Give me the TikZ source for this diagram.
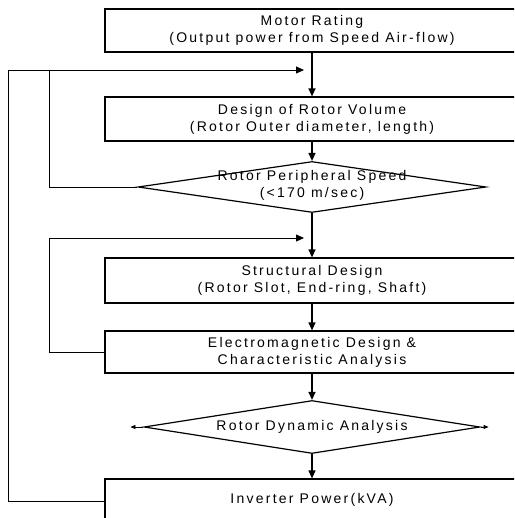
\documentclass[tikz,border=0pt]{standalone}
\usepackage{fontspec}
\setmainfont{Liberation Sans}[LetterSpace=16]
\usepackage{xcolor}
\definecolor{chart-ink}{HTML}{000000}
\usetikzlibrary{shapes.geometric,arrows.meta}

\tikzset{
    box/.style={draw=chart-ink, line width=1.2pt, minimum width=414pt, inner sep=0pt, align=center, font=\fontsize{14}{17}\selectfont},
    decision/.style={draw=chart-ink, line width=1.2pt, shape=diamond, inner sep=0pt},
    caption/.style={align=center, font=\fontsize{14}{17}\selectfont},
    flow/.style={draw=chart-ink, line width=1.2pt, -{Triangle[length=8pt,width=7pt]}},
    feedback/.style={draw=chart-ink, line width=0.8pt, -{Triangle[length=8pt,width=7pt]}, shorten >=8pt},
    stub/.style={draw=chart-ink, line width=0.8pt, -{Triangle[length=5pt,width=4pt]}}
}

\begin{document}
\begin{tikzpicture}[x=1pt, y=-1pt]

    % Frame
    \clip (0, 0) rectangle (514, 518);

    % Boxes
    \node[box, minimum height=43pt] (rating) at (312, 30.5) {Motor Rating\\(Output power from Speed Air-flow)};
    \node[box, minimum height=44pt] (volume) at (312, 119) {Design of Rotor Volume\\(Rotor Outer diameter, length)};
    \node[box, minimum height=45pt] (structural) at (312, 280.5) {Structural Design\\(Rotor Slot, End-ring, Shaft)};
    \node[box, minimum height=42pt] (emdesign) at (312, 352) {Electromagnetic Design \&\\Characteristic Analysis};
    \node[box, minimum height=44pt] (inverter) at (312, 501) {\raisebox{6pt}{Inverter Power(kVA)}};

    % Decisions
    \node[decision, minimum width=348pt, minimum height=51pt] (speed) at (312, 187) {};
    \node[caption] (speedtext) at (312, 185) {Rotor Peripheral Speed\\(<170 m/sec)};
    \node[decision, minimum width=336pt, minimum height=53pt] (dynamic) at (312, 427) {};
    \node[caption] (dynamictext) at (312, 427) {Rotor Dynamic Analysis};

    % Junctions
    \coordinate (j1) at (312, 70);
    \coordinate (j2) at (312, 238);
    \coordinate (t0) at (8, 70);
    \coordinate (t1) at (49, 70);
    \coordinate (t2) at (49, 238);
    \coordinate (dl) at ([xshift=-13pt]dynamic.west);
    \coordinate (dr) at ([xshift=8pt]dynamic.east);

    % Main flow
    \draw[flow] (rating) -- (volume);
    \draw[flow] (volume) -- (speed);
    \draw[flow] (speed) -- (structural);
    \draw[flow] (structural) -- (emdesign);
    \draw[flow] (emdesign) -- (dynamic);
    \draw[flow] (dynamic) -- (inverter);

    % Loops
    \draw[feedback] (speed.west) -| (t1) -- (j1);
    \draw[feedback] (emdesign.west) -| (t2) -- (j2);
    \draw[draw=chart-ink, line width=0.8pt] (inverter.west) -| (t0) -- (t1);

    % Exits
    \draw[stub] (dynamic.west) -- (dl);
    \draw[stub] (dynamic.east) -- (dr);

\end{tikzpicture}
\end{document}
